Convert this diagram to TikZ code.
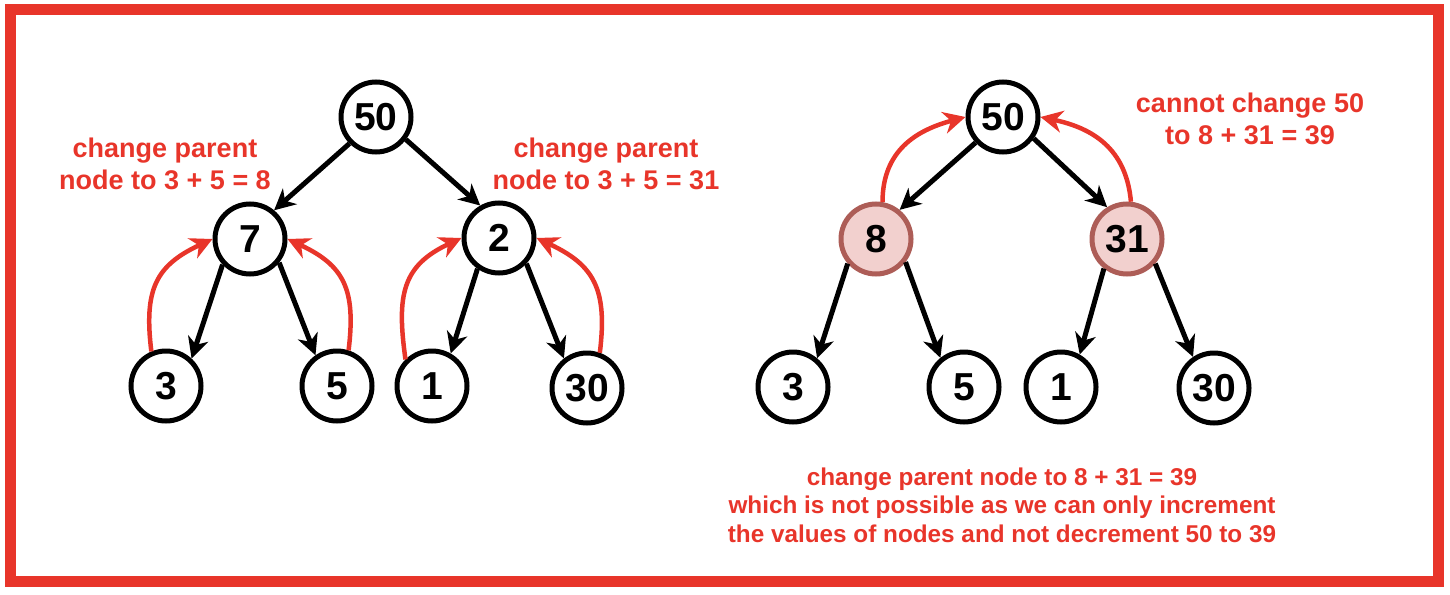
\documentclass[tikz,border=0pt]{standalone}
\usepackage{fontspec}
\setmainfont{Liberation Sans}
\usetikzlibrary{arrows.meta}
\definecolor{myred}{HTML}{E8352A}
\definecolor{pinkfill}{HTML}{F2D0CE}
\definecolor{pinkdraw}{HTML}{AD5D57}
\begin{document}
\begin{tikzpicture}[x=1pt,y=1pt,
 tnode/.style={circle, draw=black, line width=5pt, minimum size=70pt, inner sep=0pt, font=\bfseries\fontsize{39}{40}\selectfont},
 hot/.style={fill=pinkfill, draw=pinkdraw},
 edge/.style={line width=5pt, -{Stealth[length=21pt,width=21pt,inset=6.5pt]}},
 redarr/.style={draw=myred, line width=4.5pt, -{Stealth[length=22pt,width=22pt,inset=7pt]}},
 lab/.style={text=myred, align=center, font=\bfseries\fontsize{27}{32}\selectfont},
 blab/.style={text=myred, align=center, font=\bfseries\fontsize{24.3}{28.5}\selectfont}]
\useasboundingbox (0,0) rectangle (1450,-594);
\draw[myred, line width=11pt] (10,-10) rectangle (1438,-581);

% left tree
\node[tnode] (a50) at (376,-117) {50};
\node[tnode] (a7)  at (250,-239) {7};
\node[tnode] (a2)  at (499,-238) {2};
\node[tnode] (a3)  at (166,-386) {3};
\node[tnode] (a5)  at (337,-386) {5};
\node[tnode] (a1)  at (432,-386) {1};
\node[tnode] (a30) at (587,-388) {30};

\draw[edge] (a50.225) -- (a7.50);
\draw[edge] (a50.323) -- (a2.120);
\draw[edge] (a7.223) -- (a3.47);
\draw[edge] (a7.321) -- (a5.125);
\draw[edge] (a2.235) -- (a1.60);
\draw[edge] (a2.317) -- (a30.128);

\draw[redarr] (a3.113) to[out=97,in=205,looseness=1.25] (a7.west);
\draw[redarr] (a5.72) to[out=83,in=-25,looseness=1.25] (a7.east);
\draw[redarr] (a1.135) to[out=98,in=205,looseness=1.25] (a2.west);
\draw[redarr] (a30.70) to[out=83,in=-25,looseness=1.25] (a2.east);

\node[lab] (la) at (165,-164) {change parent\\node to 3 + 5 = 8};
\node[lab] (lb) at (606,-164) {change parent\\node to 3 + 5 = 31};

% right tree
\node[tnode] (b50) at (1003,-117) {50};
\node[tnode,hot] (b8)  at (876,-239) {8};
\node[tnode,hot] (b31) at (1127,-239) {31};
\node[tnode] (b3)  at (793,-387) {3};
\node[tnode] (b5)  at (964,-387) {5};
\node[tnode] (b1)  at (1061,-387) {1};
\node[tnode] (b30) at (1214,-388) {30};

\draw[edge] (b50.223) -- (b8.51);
\draw[edge] (b50.325) -- (b31.122);
\draw[edge] (b8.221) -- (b3.50);
\draw[edge] (b8.322) -- (b5.129);
\draw[edge] (b31.232) -- (b1.60);
\draw[edge] (b31.319) -- (b30.124);

\draw[redarr] (b8.80) to[out=90,in=195,looseness=1.1] (b50.west);
\draw[redarr] (b31.84) to[out=95,in=-12,looseness=1.1] (b50.east);

\node[lab] (lc) at (1250,-119) {cannot change 50\\to 8 + 31 = 39};
\node[blab] (ld) at (1002,-505) {change parent node to 8 + 31 = 39\\which is not possible as we can only increment\\the values of nodes and not decrement 50 to 39};
\end{tikzpicture}
\end{document}
